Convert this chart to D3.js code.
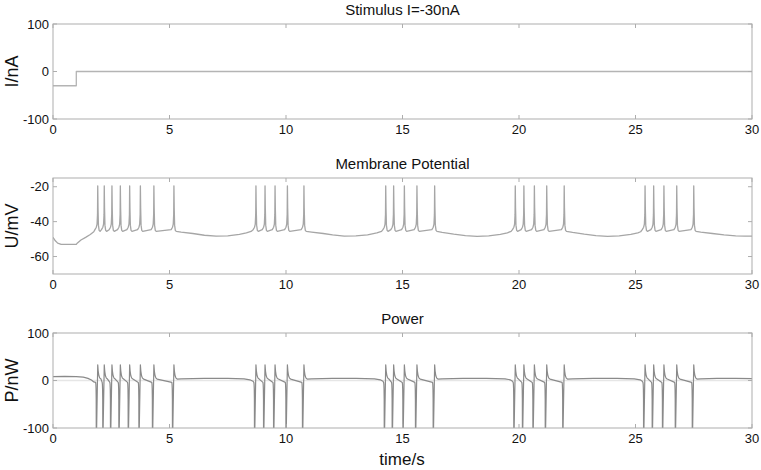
<!DOCTYPE html>
<html>
<head>
<meta charset="utf-8">
<script src="https://cdn.jsdelivr.net/npm/d3@7"></script>
<style>
  html, body { margin: 0; padding: 0; background: #fff; }
  svg { display: block; font-family: "Liberation Sans", Arial, sans-serif; }
</style>
</head>
<body>
<svg id="chart" width="761" height="470"></svg>
<script>
// ---- data ----
const timeTicks = [0, 5, 10, 15, 20, 25, 30];

// stimulus current (nA)
const stimulus = [[0, -30], [1.0, -30], [1.0, 0], [30, 0]];

// spike peak times (s), five bursts
const spikeTimes = [
  1.92, 2.20, 2.53, 2.89, 3.29, 3.75, 4.33, 5.19,
  8.71, 9.10, 9.53, 10.06, 10.77,
  14.28, 14.62, 15.08, 15.62, 16.38,
  19.84, 20.21, 20.66, 21.19, 21.94,
  25.41, 25.78, 26.22, 26.77, 27.50
];

// membrane potential between bursts (t, mV)
const potentialBase = [
  [0, -49], [0.1, -51], [0.2, -52.3], [0.35, -53], [1.0, -53], [1.05, -52.2],
  [1.2, -50.5], [1.4, -49], [1.6, -47.4], [1.75, -45.8],
  [5.5, -46], [6, -46.8], [6.5, -47.8], [7, -48.3], [7.5, -48.1], [8, -47.3], [8.3, -46.5], [8.5, -45.6],
  [11.1, -46], [11.6, -46.8], [12, -47.6], [12.5, -48.3], [13, -48.2], [13.5, -47.6], [13.9, -46.5], [14.1, -45.6],
  [16.7, -46.2], [17.2, -47.2], [17.7, -48], [18.2, -48.4], [18.7, -48.1], [19.2, -47.3], [19.5, -46.4], [19.66, -45.6],
  [22.3, -46.2], [22.8, -47.2], [23.3, -48], [23.8, -48.4], [24.3, -48.1], [24.8, -47.3], [25.1, -46.4], [25.22, -45.8],
  [27.8, -46], [28.3, -46.8], [28.8, -47.6], [29.3, -48.2], [29.7, -48.3], [30, -48.3]
];
// one action potential around its peak (dt, mV)
const potentialSpike = [
  [-0.12, -44.6], [-0.06, -43.2], [-0.03, -41.5], [-0.01, -36], [0, -19.5],
  [0.012, -32], [0.03, -42], [0.06, -45], [0.1, -45.6]
];

// power between bursts (t, nW)
const powerBase = [
  [0, 8], [0.5, 8.5], [1.0, 8], [1.3, 7], [1.5, 4.5], [1.65, 1], [1.75, -3],
  [5.5, 3.5], [6.5, 4.5], [7.5, 4.5], [8.2, 3.5], [8.45, 1.5], [8.58, -1.5],
  [11.1, 3.5], [12, 4.5], [13, 4.5], [13.8, 3.5], [14.05, 1.5], [14.16, -1.5],
  [16.7, 3.5], [17.6, 4.5], [18.6, 4.5], [19.4, 3.5], [19.62, 1.5], [19.72, -1.5],
  [22.3, 3.5], [23.2, 4.5], [24.2, 4.5], [24.95, 3.5], [25.2, 1.5], [25.29, -1.5],
  [27.8, 3.5], [28.5, 4.5], [29.3, 4.5], [30, 4]
];
// power around one spike (dt, nW)
const powerSpike = [
  [-0.09, -4], [-0.08, -8], [-0.072, -18], [-0.066, -40], [-0.062, -140],
  [0, 33], [0.02, 20], [0.05, 10], [0.09, 5], [0.14, 3]
];
const powerZero = [[0, 0], [30, 0]];

// ---- layout ----
const svg = d3.select('#chart');
const x = d3.scaleLinear().domain([0, 30]).range([53, 752]);

const panels = [
  { title: 'Stimulus I=-30nA', label: 'I/nA', domain: [-100, 100], range: [119, 24], ticks: [-100, 0, 100] },
  { title: 'Membrane Potential', label: 'U/mV', domain: [-70, -15], range: [274, 178], ticks: [-60, -40, -20] },
  { title: 'Power', label: 'P/nW', domain: [-100, 100], range: [428, 333], ticks: [-100, 0, 100] }
];

function buildTrace(base, shape) {
  const pts = base.map(d => [d[0], d[1]]);
  spikeTimes.forEach(ts => shape.forEach(([dt, v]) => pts.push([ts + dt, v])));
  return pts.sort((a, b) => a[0] - b[0]);
}

const potential = buildTrace(potentialBase, potentialSpike);
const power = buildTrace(powerBase, powerSpike);

const series = [
  [{ data: stimulus, color: '#b4b4b4', width: 1.3 }],
  [{ data: potential, color: '#a6a6a6', width: 1.3 }],
  [{ data: powerZero, color: '#e6e6e6', width: 1.6 }, { data: power, color: '#8a8a8a', width: 1.2 }]
];

const axisColor = '#adadad';

panels.forEach((p, i) => {
  const y = d3.scaleLinear().domain(p.domain).range(p.range);
  const g = svg.append('g');
  const [x0, x1] = x.range();
  const [yb, yt] = p.range;

  g.append('clipPath').attr('id', 'clip' + i)
    .append('rect').attr('x', x0).attr('y', yt).attr('width', x1 - x0).attr('height', yb - yt);

  // traces
  const line = d3.line().x(d => x(d[0])).y(d => y(d[1]));
  series[i].forEach(s => {
    g.append('path')
      .attr('clip-path', `url(#clip${i})`)
      .attr('d', line(s.data))
      .attr('fill', 'none')
      .attr('stroke', s.color)
      .attr('stroke-width', s.width)
      .attr('stroke-linejoin', 'round');
  });

  // box
  g.append('rect')
    .attr('x', x0).attr('y', yt).attr('width', x1 - x0).attr('height', yb - yt)
    .attr('fill', 'none').attr('stroke', axisColor).attr('stroke-width', 1);

  // inside ticks, matlab style
  const tl = 4;
  timeTicks.forEach(t => {
    g.append('line').attr('x1', x(t)).attr('x2', x(t)).attr('y1', yb).attr('y2', yb - tl).attr('stroke', axisColor);
    g.append('line').attr('x1', x(t)).attr('x2', x(t)).attr('y1', yt).attr('y2', yt + tl).attr('stroke', axisColor);
  });
  p.ticks.forEach(v => {
    g.append('line').attr('x1', x0).attr('x2', x0 + tl).attr('y1', y(v)).attr('y2', y(v)).attr('stroke', axisColor);
    g.append('line').attr('x1', x1).attr('x2', x1 - tl).attr('y1', y(v)).attr('y2', y(v)).attr('stroke', axisColor);
  });

  // tick labels
  g.selectAll('.xt').data(timeTicks).join('text')
    .attr('x', d => x(d)).attr('y', yb + 15)
    .attr('text-anchor', 'middle').attr('font-size', 13).attr('fill', '#111')
    .text(d => d);
  g.selectAll('.yt').data(p.ticks).join('text')
    .attr('x', 49).attr('y', d => y(d) + 4.5)
    .attr('text-anchor', 'end').attr('font-size', 13).attr('fill', '#111')
    .text(d => d);

  // title and y label
  g.append('text')
    .attr('x', (x0 + x1) / 2).attr('y', yt - 9)
    .attr('text-anchor', 'middle').attr('font-size', 15).attr('fill', '#111')
    .text(p.title);
  g.append('text')
    .attr('transform', `translate(18, ${(yt + yb) / 2}) rotate(-90)`)
    .attr('text-anchor', 'middle').attr('font-size', 18).attr('fill', '#111')
    .text(p.label);
});

svg.append('text')
  .attr('x', 402).attr('y', 465)
  .attr('text-anchor', 'middle').attr('font-size', 17).attr('fill', '#111')
  .text('time/s');
</script>
</body>
</html>
